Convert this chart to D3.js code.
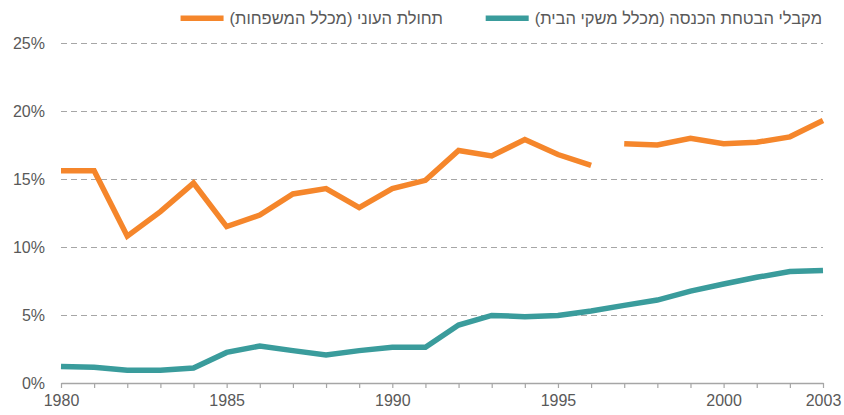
<!DOCTYPE html>
<html>
<head>
<meta charset="utf-8">
<script src="https://cdn.jsdelivr.net/npm/d3@7"></script>
<style>
  body { margin: 0; background: #fff; }
  text { font-family: "Liberation Sans", Arial, sans-serif; fill: #595959; }
</style>
</head>
<body>
<script>
const width = 844;
const height = 415;
const margin = { top: 43, right: 21, bottom: 32, left: 61 };

const years = d3.range(1980, 2004);
// poverty incidence (share of families) - series breaks after 1996
const povertyYearsA = d3.range(1980, 1997);
const povertyA = [15.6, 15.6, 10.8, 12.6, 14.7, 11.5, 12.35, 13.9, 14.3, 12.9, 14.3, 14.9, 17.1, 16.7, 17.9, 16.8, 16.0];
const povertyYearsB = d3.range(1997, 2004);
const povertyB = [17.6, 17.5, 18.0, 17.6, 17.7, 18.1, 19.3];
// income support recipients (share of households)
const support = [1.22, 1.15, 0.93, 0.93, 1.1, 2.25, 2.72, 2.38, 2.06, 2.38, 2.62, 2.62, 4.26, 4.97, 4.88, 4.97, 5.29, 5.71, 6.1, 6.76, 7.28, 7.77, 8.19, 8.28];

const yTicks = [0, 5, 10, 15, 20, 25];
const xLabels = [1980, 1985, 1990, 1995, 2000, 2003];

const legendSupport = "מקבלי הבטחת הכנסה (מכלל משקי הבית)";
const legendPoverty = "תחולת העוני (מכלל המשפחות)";

const orange = "#f5862b";
const teal = "#3a9c9c";

const svg = d3.select("body")
    .append("svg")
    .attr("width", width)
    .attr("height", height);

let xScale = d3.scaleLinear()
    .domain([1980, 2003])
    .range([margin.left, width - margin.right]);
let yScale = d3.scaleLinear()
    .domain([0, 25])
    .range([height - margin.bottom, margin.top]);

// gridlines
svg.append("g")
    .selectAll("line")
    .data(yTicks.filter(d => d > 0))
    .enter()
    .append("line")
    .attr("x1", xScale(1980))
    .attr("x2", xScale(2003))
    .attr("y1", d => yScale(d) + 0.5)
    .attr("y2", d => yScale(d) + 0.5)
    .attr("stroke", "#a6a6a6")
    .attr("stroke-width", 1)
    .attr("stroke-dasharray", "6,4");

// y labels
let yAxis = d3.axisLeft(yScale)
    .tickValues(yTicks)
    .tickFormat(d => d + "%")
    .tickSize(0)
    .tickPadding(16);

svg.append("g")
    .attr("transform", `translate(${margin.left}, 0)`)
    .call(yAxis)
    .call(g => g.select(".domain").remove())
    .call(g => g.selectAll("text")
        .style("font-size", "16px")
        .attr("fill", "#595959"));

// x axis
let xAxis = d3.axisBottom(xScale)
    .tickValues(years)
    .tickSize(5)
    .tickSizeOuter(0)
    .tickPadding(7)
    .tickFormat(d => xLabels.includes(d) ? d : "");

svg.append("g")
    .attr("transform", `translate(0, ${height - margin.bottom})`)
    .call(xAxis)
    .call(g => g.select(".domain").attr("stroke", "#a6a6a6").attr("stroke-width", 1.5))
    .call(g => g.selectAll(".tick line").attr("stroke", "#a6a6a6").attr("stroke-width", 1.2))
    .call(g => g.selectAll("text")
        .style("font-size", "16px")
        .attr("fill", "#595959"));

const line = d3.line()
    .x(d => xScale(d[0]))
    .y(d => yScale(d[1]));

function drawSeries(xs, ys, color) {
    svg.append("path")
        .datum(xs.map((x, i) => [x, ys[i]]))
        .attr("fill", "none")
        .attr("stroke", color)
        .attr("stroke-width", 5.5)
        .attr("d", line);
}

drawSeries(years, support, teal);
drawSeries(povertyYearsA, povertyA, orange);
drawSeries(povertyYearsB, povertyB, orange);

// legend (right to left)
const legend = svg.append("g");
const items = [
    { label: legendSupport, color: teal, right: 822 },
    { label: legendPoverty, color: orange, right: 443 }
];
items.forEach(item => {
    let t = legend.append("text")
        .attr("x", item.right)
        .attr("y", 18)
        .attr("dy", "0.35em")
        .attr("direction", "rtl")
        .attr("text-anchor", "start")
        .style("font-size", "16.5px")
        .text(item.label);
    let w = t.node().getComputedTextLength();
    legend.append("rect")
        .attr("x", item.right - w - 6 - 43)
        .attr("y", 15.5)
        .attr("width", 43)
        .attr("height", 5.5)
        .attr("fill", item.color);
});
</script>
</body>
</html>
